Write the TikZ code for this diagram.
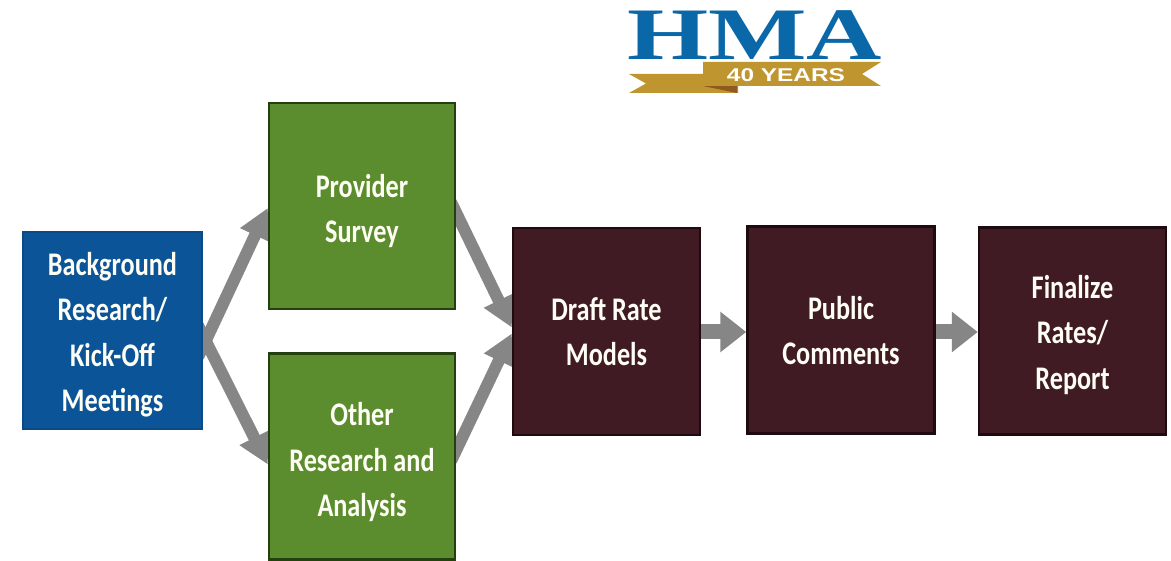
\documentclass[tikz,border=0pt]{standalone}
\usepackage{fontspec}
\usetikzlibrary{arrows.meta}
\newfontfamily\lab[FakeStretch=0.795]{Carlito}
\newfontfamily\hma[FakeStretch=1.41]{Liberation Serif}
\newfontfamily\yrs[FakeStretch=1.32]{Liberation Sans}
\newcommand\lowered[2]{\raisebox{\dimexpr-#1pt-6pt\relax}[0pt][0pt]{\begin{tabular}{@{}c@{}}#2\end{tabular}}}
\definecolor{bluebox}{HTML}{0B5497}
\definecolor{bluedge}{HTML}{0A4A86}
\definecolor{greenbox}{HTML}{5B8C2E}
\definecolor{greenedge}{HTML}{24400F}
\definecolor{maroonbox}{HTML}{411B24}
\definecolor{maroonedge}{HTML}{1E0A0F}
\definecolor{arrowgray}{HTML}{868686}
\definecolor{hmablue}{HTML}{0A67A8}
\definecolor{gold}{HTML}{BE952F}
\definecolor{fold}{HTML}{8E5A22}
\pgfdeclarelayer{paper}
\pgfdeclarelayer{links}
\pgfsetlayers{paper,links,main}
\tikzset{
  stage/.style={rectangle,inner sep=0pt,line width=2.5pt,align=center,text=white!96!yellow,
    font=\lab\bfseries\fontsize{33}{45.5}\selectfont},
  bluestage/.style={stage,fill=bluebox,draw=bluedge,minimum width=179pt,minimum height=197pt},
  greenstage/.style={stage,fill=greenbox,draw=greenedge,minimum width=186pt,minimum height=206pt},
  maroonstage/.style={stage,fill=maroonbox,draw=maroonedge,minimum width=187pt,minimum height=207pt},
  flow/.style={draw=arrowgray,line width=12pt,shorten <=-12pt,-{Triangle[length=30pt,width=31pt,fill=arrowgray]}},
  flowstraight/.style={draw=arrowgray,line width=15pt,shorten <=-4pt,-{Triangle[length=26pt,width=39pt,fill=arrowgray]}}
}
\begin{document}
\begin{tikzpicture}[x=1pt,y=-1pt]
\useasboundingbox (0,0) rectangle (1171,561);
\begin{pgfonlayer}{paper}
\fill[white] (0,0) rectangle (1171,561);
\end{pgfonlayer}
% logo
\fill[gold] (629,74) -- (738,74) -- (738,93) -- (629,93) -- (646,83.5) -- cycle;
\fill[fold] (703,86) -- (737,86) -- (737,93) -- cycle;
\fill[gold] (703,62) -- (881,62) -- (862,74) -- (881,86) -- (703,86) -- cycle;
\node[inner sep=0pt,text=hmablue,font=\hma\bfseries\fontsize{74}{74}\selectfont] (logo) at (754.5,35.5) {HMA};
\node[inner sep=0pt,text=white,font=\yrs\bfseries\fontsize{18.5}{18.5}\selectfont] (years) at (786,75) {40 YEARS};
% boxes
\node[bluestage] (research) at (112.5,330.5) {\lowered{4}{Background\\Research/\\Kick-Off\\Meetings}};
\node[greenstage] (survey) at (362,206) {\lowered{5}{Provider\\Survey}};
\node[greenstage] (other) at (362,456.5) {\lowered{6}{Other\\Research and\\Analysis}};
\node[maroonstage] (draft) at (606.5,331.5) {\lowered{2.5}{Draft Rate\\Models}};
\node[maroonstage] (public) at (841,330) {\lowered{3}{Public\\Comments}};
\node[maroonstage] (final) at (1072.5,331) {\lowered{4}{Finalize\\Rates/\\Report}};
% connectors
\begin{pgfonlayer}{links}
\draw[flow] ([yshift=-15.5pt]research.east) -- ([yshift=-2pt]survey.west);
\draw[flow] ([yshift=-5.5pt]research.east) -- ([yshift=-8pt]other.west);
\draw[flow] ([yshift=-7pt]survey.east) -- ([yshift=4pt]draft.west);
\draw[flow] ([yshift=6.5pt]other.east) -- ([yshift=-2pt]draft.west);
\draw[flowstraight] ([yshift=-0.5pt]draft.east) -- ([yshift=-2pt]public.west);
\draw[flowstraight] ([yshift=-2pt]public.east) -- ([yshift=-1pt]final.west);
\end{pgfonlayer}
\end{tikzpicture}
\end{document}
